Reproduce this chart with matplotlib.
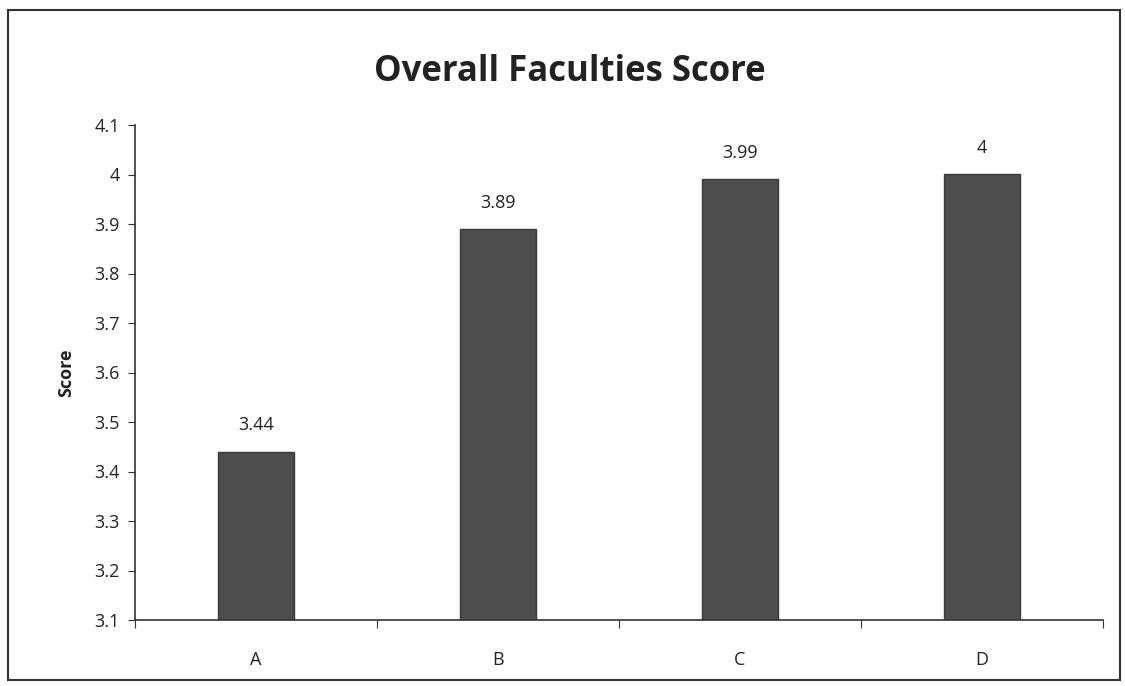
import matplotlib
matplotlib.use("Agg")
import matplotlib.pyplot as plt
from matplotlib.patches import Rectangle
import numpy as np

categories = ["A", "B", "C", "D"]
scores = [3.44, 3.89, 3.99, 4.0]
score_labels = ["3.44", "3.89", "3.99", "4"]
yticks = [3.1, 3.2, 3.3, 3.4, 3.5, 3.6, 3.7, 3.8, 3.9, 4.0, 4.1]
ytick_labels = ["3.1", "3.2", "3.3", "3.4", "3.5", "3.6", "3.7", "3.8", "3.9", "4", "4.1"]

plt.rcParams['font.family'] = ['Open Sans', 'DejaVu Sans']

fig = plt.figure(figsize=(11.25, 6.86), dpi=100)
fig.patch.set_facecolor("white")
fig.patches.append(Rectangle((8/1125, 6/686), 1112/1125, 670/686, transform=fig.transFigure,
                             fill=False, edgecolor="#333333", linewidth=1.5))

ax = fig.add_axes([135/1125, 1-620/686, 968/1125, 495/686])
x = np.arange(len(categories))
bottom = 3.1
ax.bar(x, [s - bottom for s in scores], bottom=bottom, width=0.31, color="#4d4d4d",
       edgecolor="#3a3a3a", linewidth=1)
for xi, s, lab in zip(x, scores, score_labels):
    ax.text(xi, s + 0.035, lab, ha="center", va="bottom", fontsize=13, color="#222222")

ax.set_xlim(-0.5, len(categories) - 0.5)
ax.set_ylim(3.1, 4.1)
ax.set_yticks(yticks)
ax.set_yticklabels(ytick_labels, fontsize=13, color="#222222")
ax.set_xticks(np.arange(-0.5, len(categories), 1.0))
ax.set_xticklabels([])
ax.set_xticks(x, minor=True)
ax.set_xticklabels(categories, minor=True, fontsize=13, color="#222222")
ax.tick_params(axis="x", which="minor", length=0, pad=22)
ax.tick_params(axis="x", which="major", length=6, direction="out", color="#333333")
ax.tick_params(axis="y", length=5, direction="out", color="#333333", pad=6)
for sp in ["top", "right"]:
    ax.spines[sp].set_visible(False)
for sp in ["left", "bottom"]:
    ax.spines[sp].set_color("#333333")
    ax.spines[sp].set_linewidth(1.2)

ax.set_ylabel("Score", fontsize=13, fontweight="bold", labelpad=14, color="#222222")
fig.text(570/1125, 1-72/686, "Overall Faculties Score", ha="center", va="center",
         fontsize=25, fontweight="bold", color="#222222")

fig.savefig("out.png", dpi=100, facecolor="white")
